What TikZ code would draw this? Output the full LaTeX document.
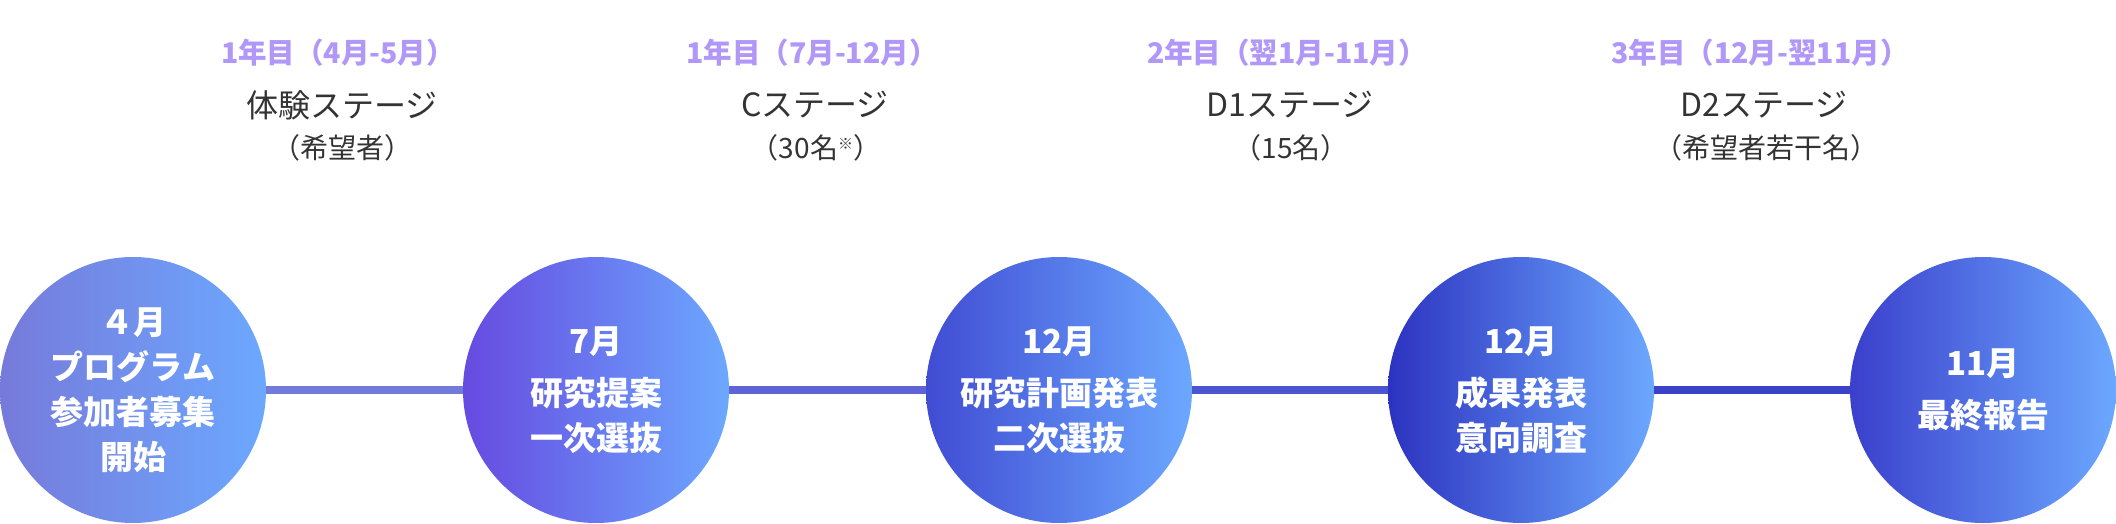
\documentclass[tikz,border=0pt]{standalone}
\usepackage{fontspec}
\setmainfont{Noto Sans CJK JP}
\definecolor{purp}{HTML}{B197F8}
\definecolor{ink}{HTML}{333333}
\definecolor{segA}{HTML}{737BD9}
\definecolor{segB}{HTML}{5E64D6}
\definecolor{segC}{HTML}{4B55CF}
\definecolor{segD}{HTML}{3A42C9}
\definecolor{rightblue}{HTML}{6CA8FF}
\tikzset{
  stagecirc/.style={circle, minimum size=266pt, inner sep=0pt, text=white,
    font=\fontsize{33}{45}\selectfont\bfseries, align=center, right color=rightblue},
  yearlbl/.style={inner sep=0pt, text=purp, font=\fontsize{28.5}{30}\selectfont\bfseries},
  stagelbl/.style={inner sep=0pt, text=ink, font=\fontsize{32}{36}\selectfont},
  countlbl/.style={inner sep=0pt, text=ink, font=\fontsize{28}{30}\selectfont},
  timeline/.style={line width=8pt}
}
\begin{document}
\begin{tikzpicture}[x=1pt,y=-1pt]
\useasboundingbox (0,0) rectangle (2116,524);
% circles
\node[stagecirc, left color={rgb,255:red,118;green,122;blue,218}] (c1) at (133,390) {４月\\プログラム\\参加者募集\\開始};
\node[stagecirc, left color={rgb,255:red,102;green,74;blue,224}] (c2) at (596,390) {7月\\[7pt]研究提案\\一次選抜};
\node[stagecirc, left color={rgb,255:red,64;green,76;blue,211}] (c3) at (1059,390) {12月\\[7pt]研究計画発表\\二次選抜};
\node[stagecirc, left color={rgb,255:red,44;green,50;blue,192}] (c4) at (1521,390) {12月\\[7pt]成果発表\\意向調査};
\node[stagecirc, left color={rgb,255:red,58;green,63;blue,204}] (c5) at (1983,390) {11月\\[7pt]最終報告};
% connectors
\draw[timeline, segA] (c1) -- (c2);
\draw[timeline, segB] (c2) -- (c3);
\draw[timeline, segC] (c3) -- (c4);
\draw[timeline, segD] (c4) -- (c5);
% headers
\node[yearlbl] (y1) at (338,53) {1年目（4月-5月）};
\node[stagelbl] (s1) at (342,105) {体験ステージ};
\node[countlbl] (n1) at (342,148) {（希望者）};
\node[yearlbl] (y2) at (812,53) {1年目（7月-12月）};
\node[stagelbl] (s2) at (815,105) {Cステージ};
\node[countlbl] (n2) at (816,148) {（30名{\fontsize{15}{15}\selectfont\raisebox{9pt}{※}}）};
\node[yearlbl] (y3) at (1287,53) {2年目（翌1月-11月）};
\node[stagelbl] (s3) at (1290,105) {D1ステージ};
\node[countlbl] (n3) at (1291,148) {（15名）};
\node[yearlbl] (y4) at (1760,53) {3年目（12月-翌11月）};
\node[stagelbl] (s4) at (1764,105) {D2ステージ};
\node[countlbl] (n4) at (1766,148) {（希望者若干名）};
\end{tikzpicture}
\end{document}
